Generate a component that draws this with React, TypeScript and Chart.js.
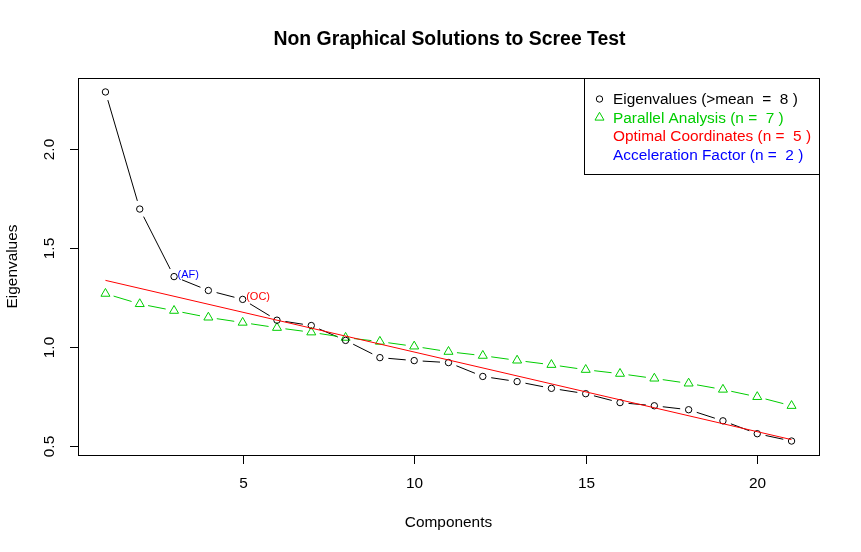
import React, { useEffect, useRef } from "react";
import { Chart, registerables } from "chart.js";

Chart.register(...registerables);

const components = [1, 2, 3, 4, 5, 6, 7, 8, 9, 10, 11, 12, 13, 14, 15, 16, 17, 18, 19, 20, 21];
const eigenvalues = [
  2.288, 1.697, 1.356, 1.286, 1.241, 1.136, 1.109, 1.034, 0.947, 0.932, 0.922,
  0.852, 0.826, 0.792, 0.765, 0.72, 0.704, 0.684, 0.628, 0.563, 0.526,
];
const parallelAnalysis = [
  1.27, 1.218, 1.184, 1.15, 1.124, 1.098, 1.075, 1.048, 1.028, 1.004, 0.977,
  0.957, 0.933, 0.911, 0.886, 0.866, 0.842, 0.817, 0.786, 0.749, 0.704,
];
const ocLineX = [1, 21];
const ocLineY = [1.337, 0.533];
const xTicks = [5, 10, 15, 20];
const yTicks = [0.5, 1.0, 1.5, 2.0];
const yTickLabels = ["0.5", "1.0", "1.5", "2.0"];
const legendLabels = [
  "Eigenvalues (>mean  =  8 )",
  "Parallel Analysis (n =  7 )",
  "Optimal Coordinates (n =  5 )",
  "Acceleration Factor (n =  2 )",
];
const legendColors = ["#000000", "#00CD00", "#FF0000", "#0000FF"];
const afComponent = 3;
const ocComponent = 5;
const titleText = "Non Graphical Solutions to Scree Test";
const xTitle = "Components";
const yTitle = "Eigenvalues";

const FONT = '"Liberation Sans", Arial, Helvetica, sans-serif';

function rangePad(vals: number[]) {
  const lo = Math.min(...vals);
  const hi = Math.max(...vals);
  const p = (hi - lo) * 0.04;
  return [lo - p, hi + p];
}

const decorPlugin = {
  id: "rdecor",
  beforeDatasetsDraw(chart: any) {
    const ctx = chart.ctx;
    chart.data.datasets.forEach((ds: any, i: number) => {
      if (!ds.gapLine) return;
      const meta = chart.getDatasetMeta(i);
      ctx.save();
      ctx.strokeStyle = ds.gapColor;
      ctx.lineWidth = 1;
      for (let k = 0; k < meta.data.length - 1; k++) {
        const a = meta.data[k];
        const b = meta.data[k + 1];
        const dx = b.x - a.x;
        const dy = b.y - a.y;
        const L = Math.hypot(dx, dy);
        const g = ds.gap;
        if (L <= 2 * g) continue;
        const ux = dx / L;
        const uy = dy / L;
        ctx.beginPath();
        ctx.moveTo(a.x + ux * g, a.y + uy * g);
        ctx.lineTo(b.x - ux * g, b.y - uy * g);
        ctx.stroke();
      }
      ctx.restore();
    });
  },
  afterDraw(chart: any) {
    const ctx = chart.ctx;
    const ca = chart.chartArea;
    const xs = chart.scales.x;
    const ys = chart.scales.y;
    ctx.save();
    // box
    ctx.strokeStyle = "#000";
    ctx.lineWidth = 1;
    ctx.strokeRect(ca.left + 0.5, ca.top + 0.5, ca.right - ca.left, ca.bottom - ca.top);
    // x ticks
    ctx.fillStyle = "#000";
    ctx.font = `15.4px ${FONT}`;
    ctx.textAlign = "center";
    ctx.textBaseline = "middle";
    xTicks.forEach((v) => {
      const px = Math.round(xs.getPixelForValue(v)) + 0.5;
      ctx.beginPath();
      ctx.moveTo(px, ca.bottom);
      ctx.lineTo(px, ca.bottom + 9);
      ctx.stroke();
      ctx.fillText(String(v), px, ca.bottom + 29);
    });
    // y ticks
    yTicks.forEach((v, i) => {
      const py = Math.round(ys.getPixelForValue(v)) + 0.5;
      ctx.beginPath();
      ctx.moveTo(ca.left, py);
      ctx.lineTo(ca.left - 8, py);
      ctx.stroke();
      ctx.save();
      ctx.translate(ca.left - 28, py);
      ctx.rotate(-Math.PI / 2);
      ctx.fillText(yTickLabels[i], 0, 0);
      ctx.restore();
    });
    // axis titles
    ctx.fillText(xTitle, (ca.left + ca.right) / 2, ca.bottom + 68);
    ctx.save();
    ctx.translate(13, (ca.top + ca.bottom) / 2);
    ctx.rotate(-Math.PI / 2);
    ctx.fillText(yTitle, 0, 0);
    ctx.restore();
    // title
    ctx.font = `bold 19.4px ${FONT}`;
    ctx.fillText(titleText, (ca.left + ca.right) / 2 + 1, 40);
    // legend
    const lgLeft = 584;
    const lgTop = ca.top;
    const lgBottom = 174;
    ctx.strokeRect(lgLeft + 0.5, lgTop + 0.5, ca.right - lgLeft, lgBottom - lgTop);
    ctx.font = `15.4px ${FONT}`;
    ctx.textAlign = "left";
    const rowY = [100, 118.5, 137, 155.5];
    legendLabels.forEach((t, i) => {
      ctx.fillStyle = legendColors[i];
      ctx.fillText(t, 613, rowY[i]);
    });
    // legend symbols
    ctx.strokeStyle = "#000";
    ctx.beginPath();
    ctx.arc(599.5, rowY[0] - 1, 3.2, 0, Math.PI * 2);
    ctx.stroke();
    ctx.strokeStyle = legendColors[1];
    const r = 5.2;
    const cy = rowY[1] - 1;
    ctx.beginPath();
    ctx.moveTo(599.5, cy - r);
    ctx.lineTo(599.5 + r * Math.sin((2 * Math.PI) / 3), cy - r * Math.cos((2 * Math.PI) / 3));
    ctx.lineTo(599.5 + r * Math.sin((4 * Math.PI) / 3), cy - r * Math.cos((4 * Math.PI) / 3));
    ctx.closePath();
    ctx.stroke();
    // annotations
    ctx.font = `11px ${FONT}`;
    ctx.textAlign = "left";
    ctx.fillStyle = "#0000FF";
    ctx.fillText("(AF)", xs.getPixelForValue(afComponent) + 3.5, ys.getPixelForValue(eigenvalues[afComponent - 1]) - 1.5);
    ctx.fillStyle = "#FF0000";
    ctx.fillText("(OC)", xs.getPixelForValue(ocComponent) + 3.5, ys.getPixelForValue(eigenvalues[ocComponent - 1]) - 2.5);
    ctx.restore();
  },
};

export default function App() {
  const ref = useRef<HTMLCanvasElement | null>(null);
  useEffect(() => {
    if (!ref.current) return;
    const [xMin, xMax] = rangePad(components);
    const [yMin, yMax] = rangePad(eigenvalues);
    const chart = new Chart(ref.current, {
      type: "scatter",
      data: {
        datasets: [
          {
            label: "OC",
            data: ocLineX.map((x, i) => ({ x, y: ocLineY[i] })),
            showLine: true,
            borderColor: "#FF0000",
            borderWidth: 1,
            pointRadius: 0,
          },
          {
            label: "Eigenvalues",
            data: components.map((x, i) => ({ x, y: eigenvalues[i] })),
            showLine: false,
            gapLine: true,
            gapColor: "#000000",
            gap: 8.5,
            pointStyle: "circle",
            pointRadius: 3.2,
            borderColor: "#000000",
            backgroundColor: "rgba(0,0,0,0)",
            pointBorderWidth: 1,
          } as any,
          {
            label: "Parallel",
            data: components.map((x, i) => ({ x, y: parallelAnalysis[i] })),
            showLine: false,
            gapLine: true,
            gapColor: "#00CD00",
            gap: 8.5,
            pointStyle: "triangle",
            pointRadius: 5.2,
            borderColor: "#00CD00",
            backgroundColor: "rgba(0,0,0,0)",
            pointBorderWidth: 1,
          } as any,
        ],
      },
      options: {
        animation: false,
        responsive: false,
        devicePixelRatio: 1,
        events: [],
        layout: { padding: { left: 78, right: 42, top: 78, bottom: 97 } },
        plugins: { legend: { display: false }, tooltip: { enabled: false }, title: { display: false } },
        scales: {
          x: { type: "linear", min: xMin, max: xMax, display: false },
          y: { type: "linear", min: yMin, max: yMax, display: false },
        },
      },
      plugins: [decorPlugin],
    });
    return () => chart.destroy();
  }, []);
  return (
    <div style={{ position: "absolute", left: 0, top: 0, width: 861, height: 552, background: "#fff" }}>
      <canvas ref={ref} width={861} height={552} style={{ display: "block" }} />
    </div>
  );
}
